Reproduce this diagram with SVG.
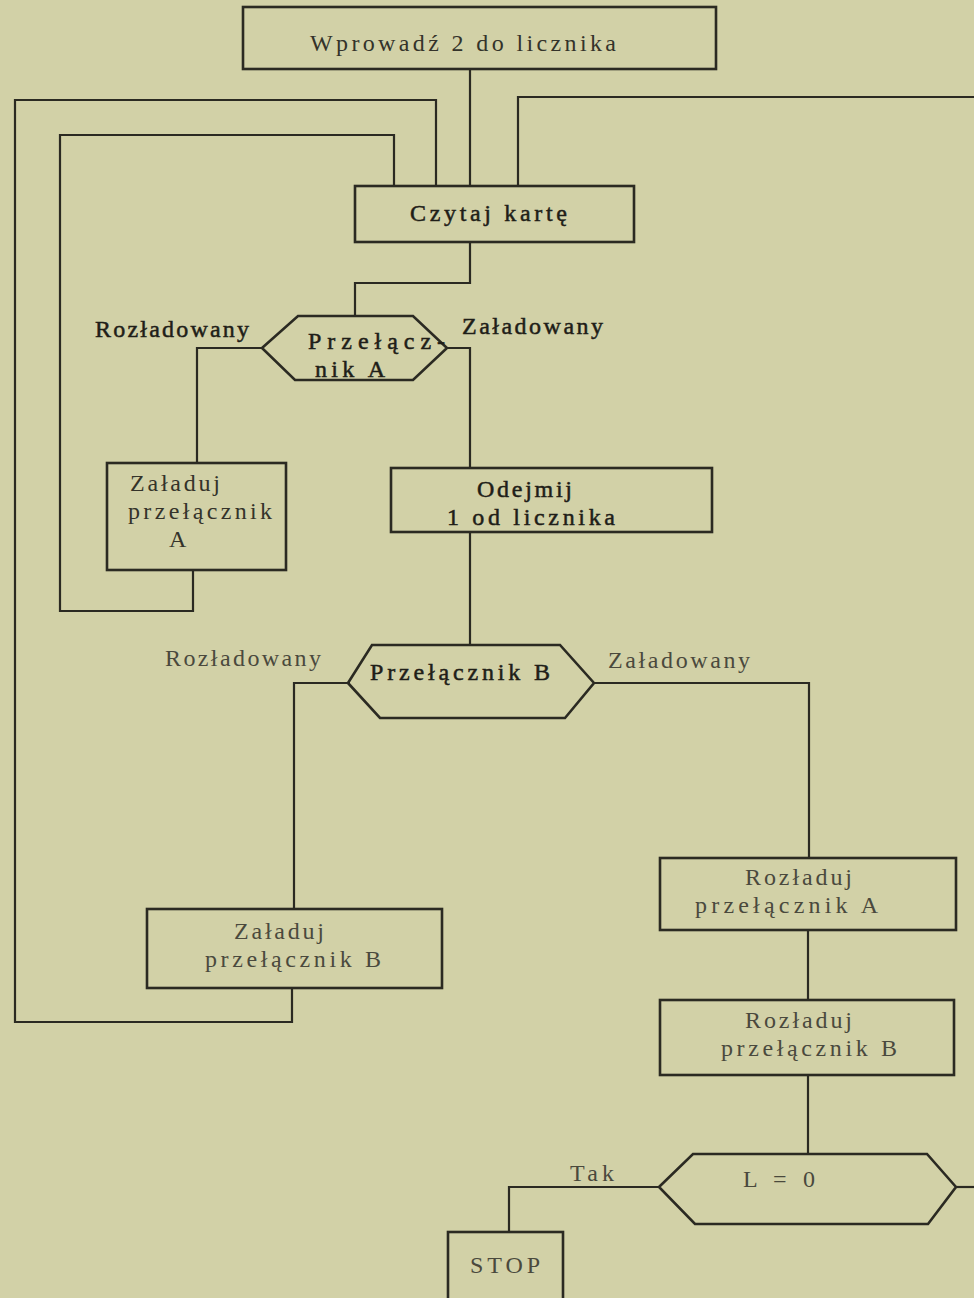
<svg xmlns="http://www.w3.org/2000/svg" width="974" height="1298" viewBox="0 0 974 1298">
<style>
.bg{fill:#d2d1a7}
.box{fill:none;stroke:#2b2a22;stroke-width:2.6}
.ln{fill:none;stroke:#2b2a22;stroke-width:2.2}
text{font-family:"Liberation Serif","DejaVu Serif",serif;font-size:24px;fill:#34332a}
.b{fill:#1f1e18;stroke:#1f1e18;stroke-width:0.5}
.l{fill:#4a493d}
</style>
<rect class="bg" x="0" y="0" width="974" height="1298"/>
<g id="connectors">
<path class="ln" d="M470,69 V186"/>
<path class="ln" d="M436,186 V100 H15 V1022 H292 V988"/>
<path class="ln" d="M394,186 V135 H60 V611 H193 V570"/>
<path class="ln" d="M518,186 V97 H974"/>
<path class="ln" d="M470,242 V283 H355 V316"/>
<path class="ln" d="M262,348 H197 V463"/>
<path class="ln" d="M447,348 H470 V468"/>
<path class="ln" d="M470,532 V645"/>
<path class="ln" d="M350,683 H294 V909"/>
<path class="ln" d="M594,683 H809 V858"/>
<path class="ln" d="M808,930 V1000"/>
<path class="ln" d="M808,1075 V1154"/>
<path class="ln" d="M956,1187 H974"/>
<path class="ln" d="M659,1187 H509 V1232"/>
</g>
<g id="n_wprowadz">
<rect class="box" x="243" y="7" width="473" height="62"/>
<text x="310" y="51" textLength="306" lengthAdjust="spacing">Wprowadź 2 do licznika</text>
</g>
<g id="n_czytaj">
<rect class="box" x="355" y="186" width="279" height="56"/>
<text class="b" x="410" y="221" textLength="157" lengthAdjust="spacing">Czytaj kartę</text>
</g>
<g id="n_przelacznikA">
<polygon class="box" points="262,348 298,316 413,316 447,348 413,380 295,380"/>
<text class="b" x="308" y="349" textLength="137" lengthAdjust="spacing">Przełącz-</text>
<text class="b" x="315" y="377" textLength="70" lengthAdjust="spacing">nik A</text>
</g>
<g id="labels">
<text class="b" x="95" y="337" textLength="154" lengthAdjust="spacing">Rozładowany</text>
<text class="b" x="462" y="334" textLength="141" lengthAdjust="spacing">Załadowany</text>
<text class="l" x="165" y="666" textLength="156" lengthAdjust="spacing">Rozładowany</text>
<text class="l" x="608" y="668" textLength="142" lengthAdjust="spacing">Załadowany</text>
<text class="l" x="570" y="1181" textLength="44" lengthAdjust="spacing">Tak</text>
</g>
<g id="n_zaladujA">
<rect class="box" x="107" y="463" width="179" height="107"/>
<text x="130" y="491" textLength="90" lengthAdjust="spacing">Załaduj</text>
<text x="128" y="519" textLength="144" lengthAdjust="spacing">przełącznik</text>
<text x="169" y="547">A</text>
</g>
<g id="n_odejmij">
<rect class="box" x="391" y="468" width="321" height="64"/>
<text class="b" x="477" y="497" textLength="95" lengthAdjust="spacing">Odejmij</text>
<text class="b" x="447" y="525" textLength="168" lengthAdjust="spacing">1 od licznika</text>
</g>
<g id="n_przelacznikB">
<polygon class="box" points="348,683 372,645 560,645 594,683 565,718 380,718"/>
<text class="b" x="370" y="680" textLength="180" lengthAdjust="spacing">Przełącznik B</text>
</g>
<g id="n_zaladujB">
<rect class="box" x="147" y="909" width="295" height="79"/>
<text class="l" x="234" y="939" textLength="90" lengthAdjust="spacing">Załaduj</text>
<text class="l" x="205" y="967" textLength="176" lengthAdjust="spacing">przełącznik B</text>
</g>
<g id="n_rozladujA">
<rect class="box" x="660" y="858" width="296" height="72"/>
<text class="l" x="745" y="885" textLength="107" lengthAdjust="spacing">Rozładuj</text>
<text class="l" x="695" y="913" textLength="183" lengthAdjust="spacing">przełącznik  A</text>
</g>
<g id="n_rozladujB">
<rect class="box" x="660" y="1000" width="294" height="75"/>
<text class="l" x="745" y="1028" textLength="107" lengthAdjust="spacing">Rozładuj</text>
<text class="l" x="721" y="1056" textLength="176" lengthAdjust="spacing">przełącznik B</text>
</g>
<g id="n_L0">
<polygon class="box" points="659,1187 693,1154 927,1154 956,1187 928,1224 695,1224"/>
<text class="l" x="743" y="1187" textLength="72" lengthAdjust="spacing">L = 0</text>
</g>
<g id="n_stop">
<rect class="box" x="448" y="1232" width="115" height="80"/>
<text class="l" x="470" y="1273" textLength="70" lengthAdjust="spacing">STOP</text>
</g>
</svg>
